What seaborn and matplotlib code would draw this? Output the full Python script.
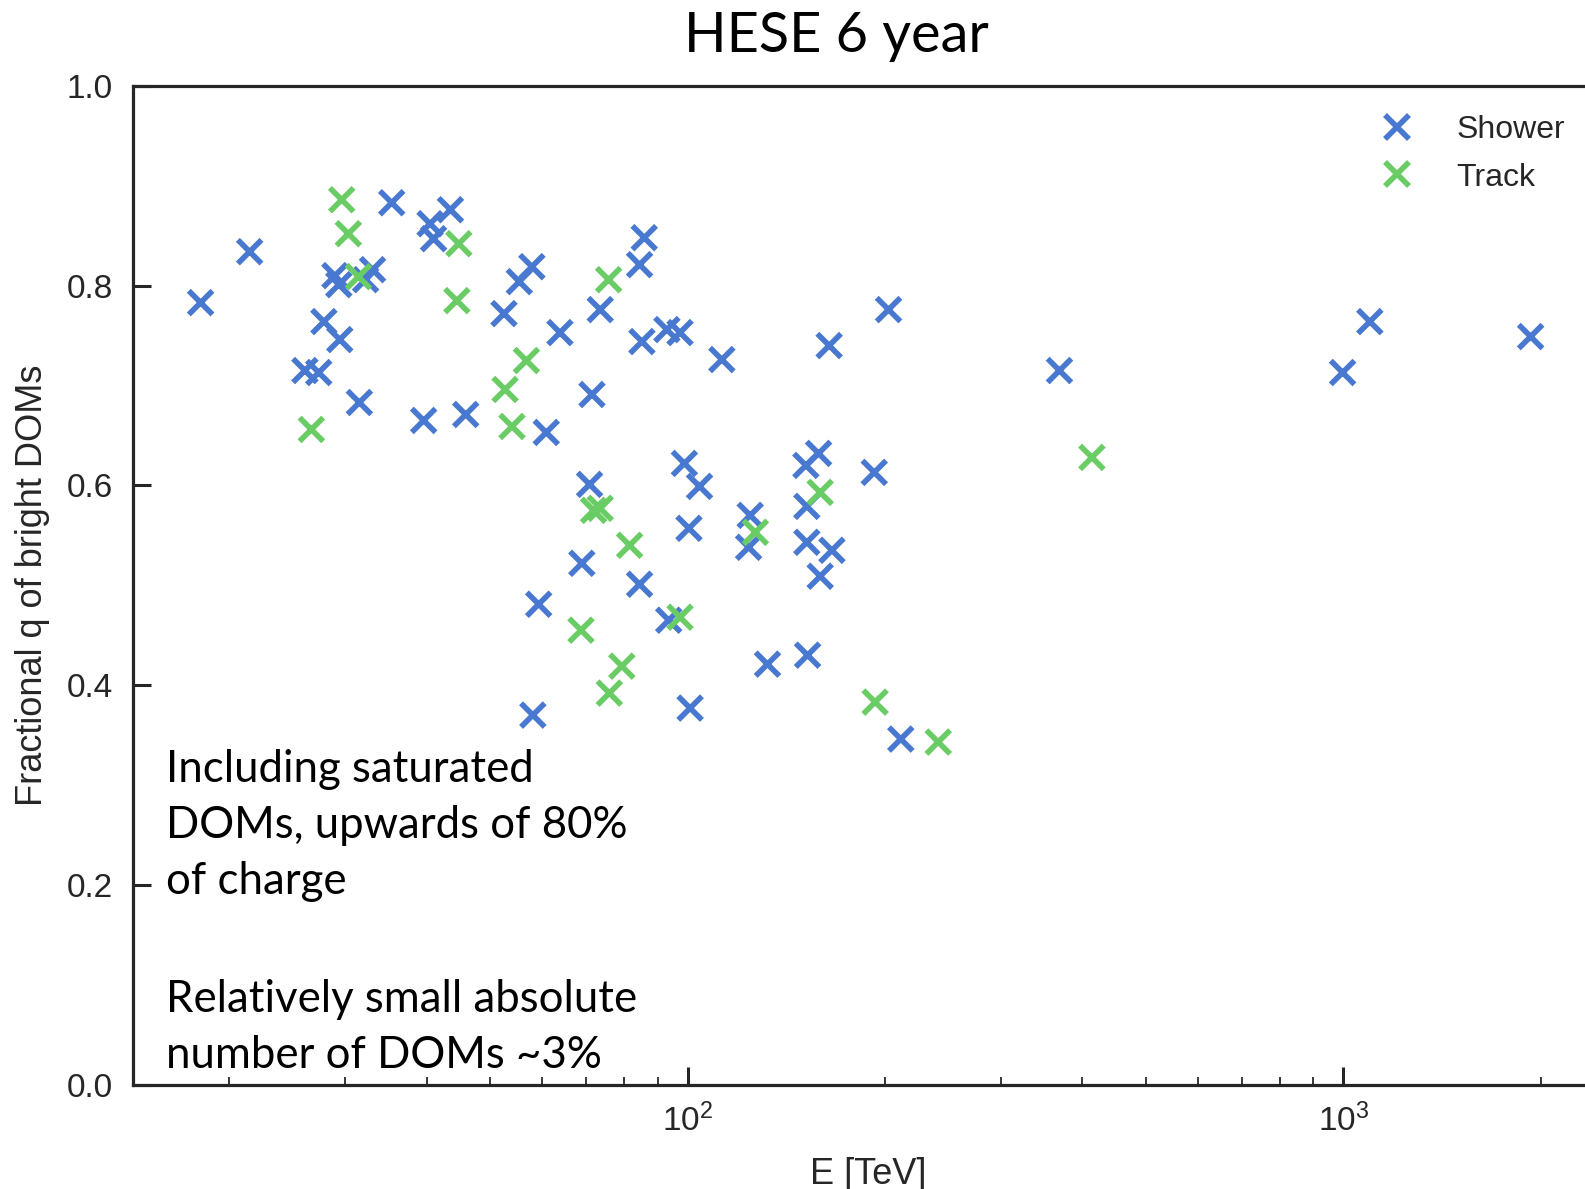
import matplotlib
matplotlib.use("Agg")
import matplotlib.pyplot as plt
import pandas as pd
import seaborn as sns
from matplotlib.ticker import LogLocator, NullFormatter

# Deposited energy (TeV) and fraction of charge in bright DOMs, per event
shower_energy = [18.1, 21.5, 26.1, 27.4, 27.9, 29.0, 29.4, 29.5, 31.6, 33.1,
                 32.3, 35.4, 39.6, 40.5, 41.0, 43.5, 45.9, 52.5, 55.4, 57.9,
                 58.1, 59.3, 60.9, 63.9, 69.0, 70.9, 71.5, 73.6, 84.5, 84.5,
                 85.9, 85.2, 93.0, 93.6, 97.4, 98.9, 100.5, 100.9, 104.3, 112.8,
                 124.6, 123.9, 132.4, 151.5, 152.0, 152.4, 152.0, 158.4, 159.3, 164.4,
                 166.0, 192.6, 202.5, 211.4, 369.0, 997.0, 1097.0, 1929.0]
shower_frac = [0.783, 0.834, 0.715, 0.713, 0.764, 0.810, 0.801, 0.746, 0.683, 0.816,
               0.806, 0.883, 0.665, 0.862, 0.847, 0.876, 0.671, 0.772, 0.804, 0.819,
               0.370, 0.481, 0.653, 0.753, 0.522, 0.601, 0.691, 0.776, 0.501, 0.821,
               0.848, 0.744, 0.756, 0.465, 0.753, 0.622, 0.557, 0.377, 0.599, 0.726,
               0.570, 0.538, 0.421, 0.620, 0.543, 0.430, 0.579, 0.632, 0.509, 0.740,
               0.535, 0.613, 0.776, 0.346, 0.715, 0.713, 0.764, 0.749]

track_energy = [26.7, 29.7, 30.4, 31.5, 44.5, 44.8, 52.7, 54.0, 56.8, 68.8,
                71.9, 73.6, 75.8, 76.0, 79.4, 81.6, 97.4, 126.9, 159.3, 193.2,
                241.1, 413.5]
track_frac = [0.656, 0.886, 0.852, 0.809, 0.785, 0.842, 0.696, 0.659, 0.725, 0.455,
              0.575, 0.577, 0.806, 0.392, 0.419, 0.540, 0.468, 0.553, 0.593, 0.383,
              0.343, 0.628]

event_types = ["Shower", "Track"]
type_colors = ["#4878CF", "#6ACC65"]

y_ticks = [0.0, 0.2, 0.4, 0.6, 0.8, 1.0]
y_tick_labels = ["0.0", "0.2", "0.4", "0.6", "0.8", "1.0"]

title_text = "HESE 6 year"
note_lines = ["Including saturated", "DOMs, upwards of 80%", "of charge",
              "Relatively small absolute", "number of DOMs ~3%"]
x_label = "E [TeV]"
y_label = "Fractional q of bright DOMs"

sns.set_style("ticks")
plt.rcParams["font.family"] = ["Liberation Sans", "DejaVu Sans"]
plt.rcParams["text.color"] = "#262626"
plt.rcParams["axes.labelcolor"] = "#262626"

W, H = 1585, 1189
fig = plt.figure(figsize=(W / 100, H / 100), dpi=100)
ax = fig.add_axes([132.5 / W, 1 - 1084.6 / H, 1472 / W, 998.7 / H])

events = pd.DataFrame({
    "energy": shower_energy + track_energy,
    "frac": shower_frac + track_frac,
    "kind": ["Shower"] * len(shower_energy) + ["Track"] * len(track_energy),
})

sns.scatterplot(data=events, x="energy", y="frac", hue="kind",
                hue_order=event_types, palette=type_colors,
                marker="x", s=290, linewidth=4.0, ax=ax, legend=True)

ax.set_xscale("log")
ax.set_xlim(14.25, 2500)
ax.set_ylim(0, 1)
ax.set_yticks(y_ticks, labels=y_tick_labels)
ax.xaxis.set_minor_locator(LogLocator(base=10, subs=range(2, 10)))
ax.xaxis.set_minor_formatter(NullFormatter())

for side in ["left", "bottom", "top", "right"]:
    ax.spines[side].set_linewidth(2.3)
    ax.spines[side].set_color("#262626")

ax.tick_params(which="major", direction="in", length=13, width=2.2,
               labelsize=24, pad=14, color="#262626", labelcolor="#262626")
ax.tick_params(which="minor", direction="in", length=6, width=1.3,
               color="#262626")
ax.tick_params(top=False, right=False, which="both")

ax.set_xlabel(x_label, fontsize=26, labelpad=13)
ax.set_ylabel(y_label, fontsize=26, labelpad=12)

handles, labels = ax.get_legend_handles_labels()
keep = [(h, l) for h, l in zip(handles, labels) if l in event_types]
ax.legend([h for h, _ in keep], [l for _, l in keep],
          loc="upper left", bbox_to_anchor=(1381 / W, 1 - 115 / H),
          bbox_transform=fig.transFigure, frameon=False, fontsize=23,
          borderpad=0, borderaxespad=0, handlelength=1.0,
          handletextpad=1.36, labelspacing=0.55)

fig.text(836 / W, 1 - 52.5 / H, title_text, family=["Lato", "DejaVu Sans"],
         fontsize=40.2, color="black", ha="center", va="baseline")

note_baselines = [781.7, 837.5, 894.5, 1011.5, 1068.0]
for line, base in zip(note_lines, note_baselines):
    fig.text(166 / W, 1 - base / H, line, family=["Lato", "DejaVu Sans"],
             fontsize=31.5, color="black", ha="left", va="baseline")

fig.savefig("out.png", dpi=100)
